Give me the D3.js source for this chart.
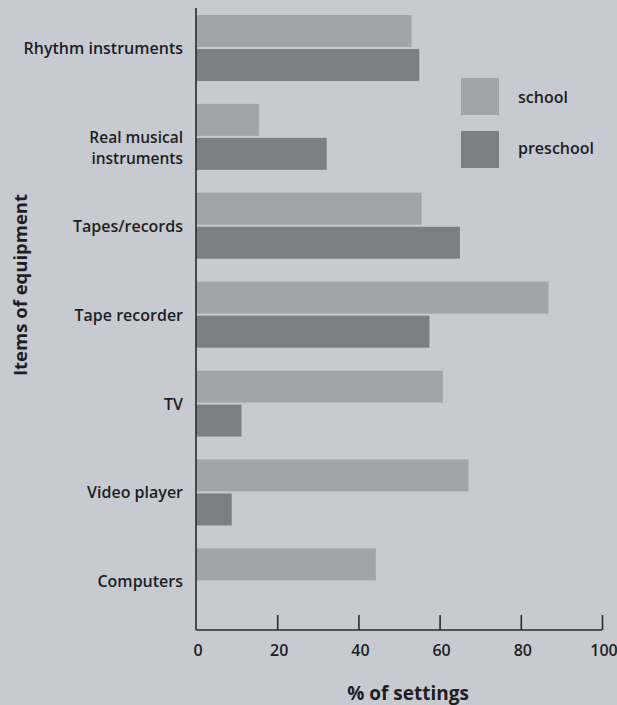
<!DOCTYPE html>
<html><head><meta charset="utf-8">
<script src="https://cdn.jsdelivr.net/npm/d3@7"></script>
<style>
body{margin:0;background:#c8cad2;}
svg{display:block;}
text{font-family:"Open Sans",sans-serif;fill:#1e1e22;}
</style></head>
<body><svg id="chart" width="617" height="705"></svg>
<script>
const categories = ["Rhythm instruments","Real musical\ninstruments","Tapes/records","Tape recorder","TV","Video player","Computers"];
const series = ["school","preschool"];
const schoolValues = [53.1, 15.5, 55.6, 86.8, 60.8, 67.1, 44.3];
const preschoolValues = [55.0, 32.2, 65.0, 57.5, 11.2, 8.8, null];
const xTicks = [0,20,40,60,80,100];
const colors = {school:"#a3a4aa", preschool:"#7d7e84"};

const svg = d3.select("#chart");
svg.append("rect").attr("width",617).attr("height",705).attr("fill","#c8cad2");

const x = d3.scaleLinear().domain([0,100]).range([196,602]);
const y = d3.scaleBand().domain(categories).range([10,619.3]).paddingInner(0.258).paddingOuter(0.056);
const ySub = d3.scaleBand().domain(series).range([0,y.bandwidth()]).paddingInner(0.06);

const data = categories.map((c,i)=>({cat:c, school:schoolValues[i], preschool:preschoolValues[i]}));

const g = svg.append("g");
data.forEach(d=>{
  series.forEach(s=>{
    if(d[s]==null) return;
    g.append("rect")
      .attr("x", x(0))
      .attr("y", y(d.cat)+ySub(s))
      .attr("width", x(d[s])-x(0))
      .attr("height", ySub.bandwidth())
      .attr("fill", colors[s]);
  });
});

// y axis line
svg.append("line").attr("x1",x(0)).attr("x2",x(0)).attr("y1",8).attr("y2",630)
  .attr("stroke","#2a2a2e").attr("stroke-width",1.6);

// x axis
const xAxis = d3.axisTop(x).tickValues(xTicks).tickSize(15).tickFormat("");
const ax = svg.append("g").attr("transform","translate(0,630)").call(xAxis);
ax.select(".domain").attr("stroke","#2a2a2e").attr("stroke-width",1.6).attr("d", `M${x(0)},0H${x(100)}`);
ax.selectAll(".tick line").attr("stroke","#2a2a2e").attr("stroke-width",1.6);
ax.selectAll(".tick").filter(d=>d===0).select("line").remove();

svg.append("g").selectAll("text").data(xTicks).join("text")
  .attr("x", d=>x(d)+2).attr("y",656)
  .attr("text-anchor","middle").attr("font-size",16).attr("font-weight",600)
  .text(d=>d);

svg.append("text").attr("x",408).attr("y",700).attr("text-anchor","middle")
  .attr("font-size",19).attr("font-weight",700).text("% of settings");

// category labels (one text element per line)
data.forEach(d=>{
  const lines = d.cat.split("\n");
  const cy = y(d.cat)+y.bandwidth()/2;
  lines.forEach((ln,i)=>{
    svg.append("text").attr("x",183).attr("text-anchor","end")
      .attr("font-size",lines.length>1?15.5:16).attr("font-weight",600)
      .attr("y", cy + 6 + i*21).text(ln);
  });
});

// y axis title
svg.append("text").attr("transform","translate(27,285) rotate(-90)")
  .attr("text-anchor","middle").attr("font-size",18.5).attr("font-weight",700)
  .text("Items of equipment");

// legend
const leg = svg.append("g");
series.forEach((s,i)=>{
  leg.append("rect").attr("x",461).attr("y",78+i*53).attr("width",38).attr("height",37).attr("fill",colors[s]);
  leg.append("text").attr("x",518).attr("y",103+i*51).attr("font-size",16).attr("font-weight",600).text(s);
});
</script></body></html>
